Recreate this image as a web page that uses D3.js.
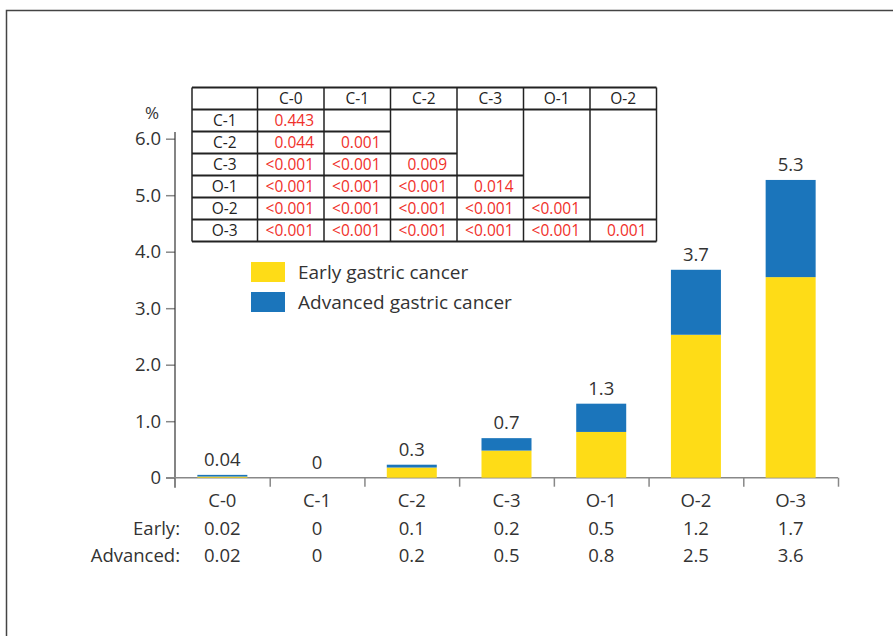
<!DOCTYPE html>
<html>
<head>
<meta charset="utf-8">
<script src="https://cdn.jsdelivr.net/npm/d3@7"></script>
<style>
  body { margin: 0; background: #fff; }
  svg text { font-family: "Open Sans", "DejaVu Sans", sans-serif; }
</style>
</head>
<body>
<svg id="chart" width="893" height="636"></svg>
<script>
var width = 893, height = 636;

// bar data
var categories = ["C-0", "C-1", "C-2", "C-3", "O-1", "O-2", "O-3"];
var yellowVals = [0.02, 0, 0.18, 0.48, 0.81, 2.53, 3.55];
var blueVals = [0.03, 0, 0.05, 0.22, 0.50, 1.15, 1.72];
var totalLabels = ["0.04", "0", "0.3", "0.7", "1.3", "3.7", "5.3"];
var earlyRow = ["0.02", "0", "0.1", "0.2", "0.5", "1.2", "1.7"];
var advancedRow = ["0.02", "0", "0.2", "0.5", "0.8", "2.5", "3.6"];
var yTicks = [0, 1, 2, 3, 4, 5, 6];
var legendLabels = ["Early gastric cancer", "Advanced gastric cancer"];

// p-value table
var tableCols = ["C-0", "C-1", "C-2", "C-3", "O-1", "O-2"];
var tableRows = ["C-1", "C-2", "C-3", "O-1", "O-2", "O-3"];
var pValues = [
  ["0.443"],
  ["0.044", "0.001"],
  ["<0.001", "<0.001", "0.009"],
  ["<0.001", "<0.001", "<0.001", "0.014"],
  ["<0.001", "<0.001", "<0.001", "<0.001", "<0.001"],
  ["<0.001", "<0.001", "<0.001", "<0.001", "<0.001", "0.001"]
];

var yellow = "#fedc17", blue = "#1b75bb", ink = "#333", fs = "18.5px";

var svg = d3.select("#chart");

// outer frame
svg.append("rect")
  .attr("x", 6.5).attr("y", 10.5)
  .attr("width", 1000).attr("height", 1000)
  .attr("fill", "none").attr("stroke", "#444").attr("stroke-width", 1.5);

var x = d3.scaleBand().domain(categories).range([175, 838]).paddingInner(0).paddingOuter(0);
var y = d3.scaleLinear().domain([0, 6]).range([477.7, 138.7]);
var barW = 50;

// y axis
var yAxis = svg.append("g")
  .attr("transform", "translate(175,0)")
  .call(d3.axisLeft(y).tickValues(yTicks).tickSize(9).tickPadding(5)
    .tickFormat(function (d) { return d === 0 ? "0" : d.toFixed(1); }));
yAxis.select(".domain").remove();
yAxis.selectAll("line").attr("stroke", "#888").attr("stroke-width", 1.5);
yAxis.selectAll("text").style("font-size", fs).style("fill", ink);
svg.append("line")
  .attr("x1", 175).attr("x2", 175)
  .attr("y1", y(6.12)).attr("y2", y(0) + 10)
  .attr("stroke", "#333").attr("stroke-width", 1.2);
svg.append("text").attr("x", 152).attr("y", 119)
  .attr("text-anchor", "middle").style("font-size", "17px").style("fill", ink).text("%");

// x axis baseline and boundary ticks
var xb = d3.scaleLinear().domain([0, 7]).range([175, 838]);
var xAxis = svg.append("g")
  .attr("transform", "translate(0," + y(0) + ")")
  .call(d3.axisBottom(xb).ticks(7).tickSize(9).tickSizeOuter(0).tickFormat(""));
xAxis.select(".domain").attr("d", "M166,0H838").attr("stroke", "#888").attr("stroke-width", 1.5);
xAxis.selectAll("line").attr("stroke", "#888").attr("stroke-width", 1.5);
xAxis.selectAll(".tick").filter(function (d) { return d === 0; }).remove();

// category labels and rows
function rowText(cls, data, yPos) {
  svg.selectAll("." + cls).data(data).enter().append("text")
    .attr("class", cls)
    .attr("x", function (d, i) { return x(categories[i]) + x.bandwidth() / 2; })
    .attr("y", yPos).attr("text-anchor", "middle")
    .style("font-size", fs).style("fill", ink)
    .text(function (d) { return d; });
}
rowText("cat", categories, 507);
rowText("early", earlyRow, 535);
rowText("adv", advancedRow, 562);
svg.append("text").attr("x", 180).attr("y", 535).attr("text-anchor", "end")
  .style("font-size", fs).style("fill", ink).text("Early:");
svg.append("text").attr("x", 180).attr("y", 562).attr("text-anchor", "end")
  .style("font-size", fs).style("fill", ink).text("Advanced:");

// stacked bars
var bars = svg.selectAll(".bar").data(categories).enter().append("g");
bars.append("rect")
  .attr("x", function (d) { return x(d) + (x.bandwidth() - barW) / 2; })
  .attr("width", barW)
  .attr("y", function (d, i) { return y(yellowVals[i]); })
  .attr("height", function (d, i) { return y(0) - y(yellowVals[i]); })
  .attr("fill", yellow);
bars.append("rect")
  .attr("x", function (d) { return x(d) + (x.bandwidth() - barW) / 2; })
  .attr("width", barW)
  .attr("y", function (d, i) { return y(yellowVals[i] + blueVals[i]); })
  .attr("height", function (d, i) { return y(yellowVals[i]) - y(yellowVals[i] + blueVals[i]); })
  .attr("fill", blue);
bars.append("text")
  .attr("x", function (d) { return x(d) + x.bandwidth() / 2; })
  .attr("y", function (d, i) { return y(yellowVals[i] + blueVals[i]) - 9; })
  .attr("text-anchor", "middle").style("font-size", fs).style("fill", ink)
  .text(function (d, i) { return totalLabels[i]; });

// legend
var legend = svg.selectAll(".legend").data(legendLabels).enter().append("g")
  .attr("transform", function (d, i) { return "translate(251," + (262 + i * 30) + ")"; });
legend.append("rect").attr("width", 34).attr("height", 20)
  .attr("fill", function (d, i) { return i === 0 ? yellow : blue; });
legend.append("text").attr("x", 47).attr("y", 16.5)
  .style("font-size", "19px").style("fill", ink)
  .text(function (d) { return d; });

// p-value table
var tx0 = 192, colW0 = 65.5, colW = 66.5, rowH = 22, ty0 = 87.5, tfs = "15.5px";
var colX = function (c) { return tx0 + colW0 + c * colW; }; // left edge of data column c
var tRight = colX(tableCols.length);
var tBottom = ty0 + rowH * (tableRows.length + 1);
var table = svg.append("g");

// horizontal lines: header top, then staircase tops of each row, bottom
var hLines = [{ y: ty0, x2: tRight }];
tableRows.forEach(function (r, i) {
  hLines.push({ y: ty0 + rowH * (i + 1), x2: i === 0 ? tRight : colX(i + 1) });
});
hLines.push({ y: tBottom, x2: tRight });
table.selectAll(".hl").data(hLines).enter().append("line")
  .attr("x1", tx0).attr("x2", function (d) { return d.x2; })
  .attr("y1", function (d) { return d.y; }).attr("y2", function (d) { return d.y; })
  .attr("stroke", "#222").attr("stroke-width", 2);
var vx = [tx0].concat(d3.range(tableCols.length + 1).map(colX));
table.selectAll(".vl").data(vx).enter().append("line")
  .attr("x1", function (d) { return d; }).attr("x2", function (d) { return d; })
  .attr("y1", ty0).attr("y2", tBottom)
  .attr("stroke", "#222").attr("stroke-width", 1.5);

table.selectAll(".th").data(tableCols).enter().append("text")
  .attr("x", function (d, i) { return colX(i) + colW / 2; })
  .attr("y", ty0 + 16.5).attr("text-anchor", "middle").style("font-size", tfs)
  .style("fill", "#222").text(function (d) { return d; });
table.selectAll(".tr").data(tableRows).enter().append("text")
  .attr("x", tx0 + colW0 / 2)
  .attr("y", function (d, i) { return ty0 + rowH * (i + 1) + 16.5; })
  .attr("text-anchor", "middle").style("font-size", tfs)
  .style("fill", "#222").text(function (d) { return d; });
pValues.forEach(function (row, r) {
  table.selectAll(".pv" + r).data(row).enter().append("text")
    .attr("x", function (d, c) { return colX(c + 1) - 10; })
    .attr("y", ty0 + rowH * (r + 1) + 16.5)
    .attr("text-anchor", "end").style("font-size", tfs)
    .style("fill", "#f0302a").text(function (d) { return d; });
});
</script>
</body>
</html>
